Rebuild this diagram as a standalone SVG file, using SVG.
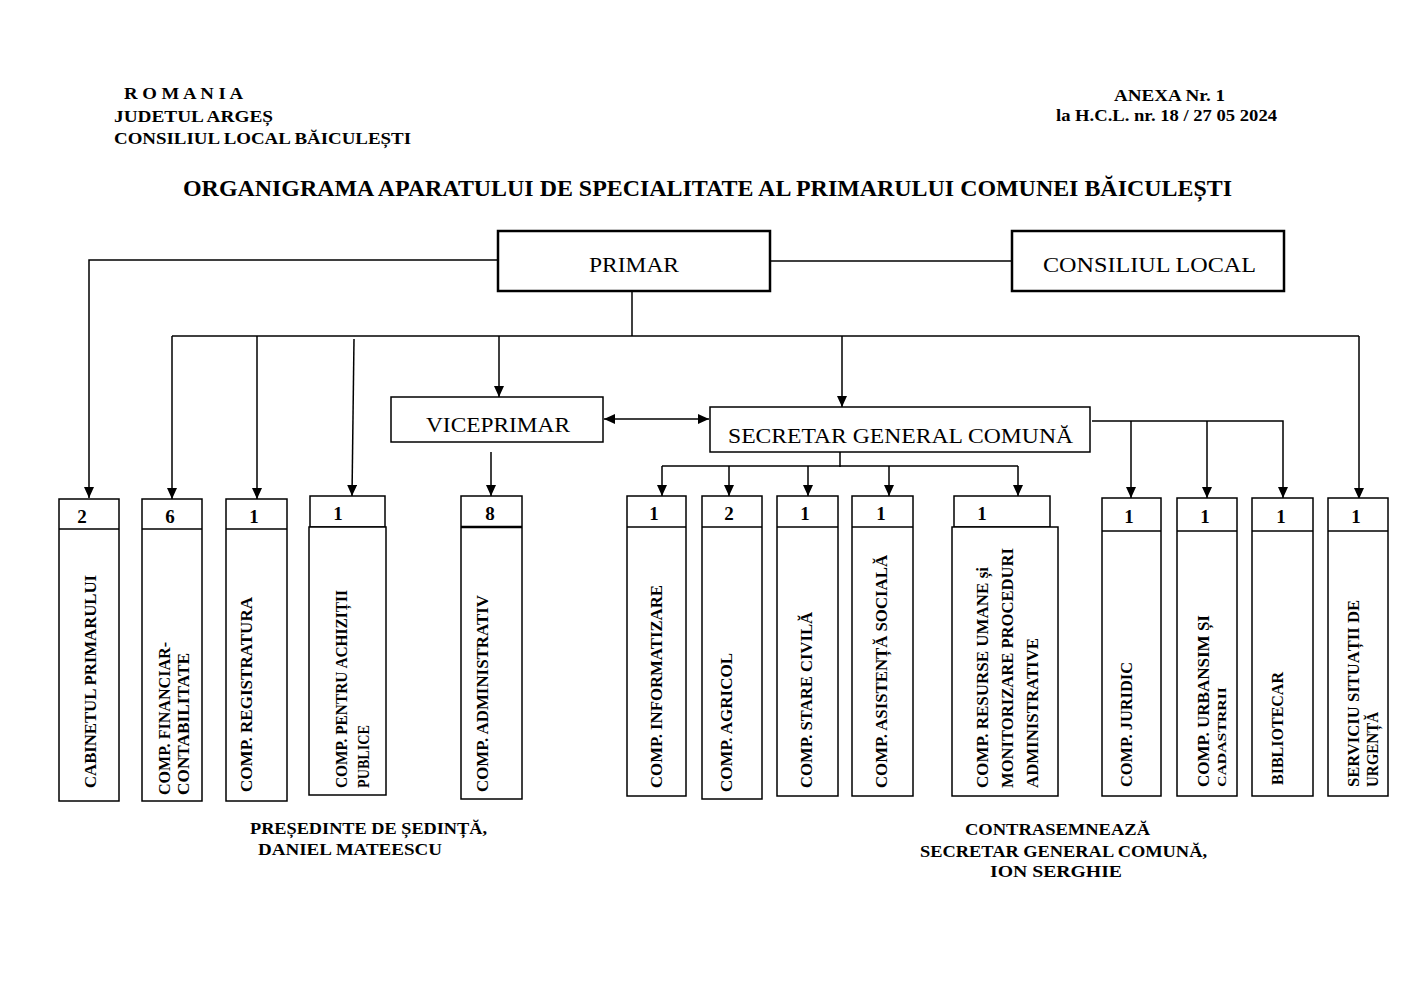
<svg xmlns="http://www.w3.org/2000/svg" width="1415" height="1001" viewBox="0 0 1415 1001">
<style>
text{font-family:"Liberation Serif","Times New Roman",serif;fill:#000}
.b{font-weight:bold}
.h{font-size:16px;font-weight:bold}
.t{font-size:23px;font-weight:bold}
.big{font-size:22px}
.num{font-size:19px;font-weight:bold;text-anchor:middle}
.v{font-size:16.5px;font-weight:bold}
.box{fill:#fff;stroke:#000;stroke-width:1.5}
.bx2{fill:#fff;stroke:#000;stroke-width:2.5}
.c{fill:none;stroke:#000;stroke-width:1.5}
</style>
<defs>
<marker id="ah" markerUnits="userSpaceOnUse" markerWidth="12" markerHeight="10" refX="11" refY="5" orient="auto-start-reverse">
<path d="M0,0 L11,5 L0,10 Z" fill="#000"/>
</marker>
</defs>
<rect width="1415" height="1001" fill="#fff"/>

<g id="header">
<text class="h" x="124" y="99" textLength="119" lengthAdjust="spacingAndGlyphs">R O M A N I A</text>
<text class="h" x="114" y="122" textLength="159" lengthAdjust="spacingAndGlyphs">JUDETUL  ARGEȘ</text>
<text class="h" x="114" y="144" textLength="297" lengthAdjust="spacingAndGlyphs">CONSILIUL LOCAL  BĂICULEȘTI</text>
<text class="h" x="1114" y="101" textLength="111" lengthAdjust="spacingAndGlyphs">ANEXA  Nr. 1</text>
<text class="h" x="1056" y="121" textLength="221" lengthAdjust="spacingAndGlyphs">la H.C.L. nr. 18 / 27 05 2024</text>
<text class="t" x="183" y="196" textLength="1049" lengthAdjust="spacingAndGlyphs">ORGANIGRAMA  APARATULUI DE SPECIALITATE AL PRIMARULUI COMUNEI BĂICULEȘTI</text>
</g>

<g id="connectors">
<polyline class="c" points="498,260 89,260 89,498" marker-end="url(#ah)"/>
<line class="c" x1="770" y1="261" x2="1012" y2="261"/>
<line class="c" x1="632" y1="291" x2="632" y2="336"/>
<line class="c" x1="172" y1="336" x2="1359" y2="336"/>
<line class="c" x1="172" y1="336" x2="172" y2="499" marker-end="url(#ah)"/>
<line class="c" x1="257" y1="336" x2="257" y2="499" marker-end="url(#ah)"/>
<line class="c" x1="354" y1="339" x2="352" y2="496" marker-end="url(#ah)"/>
<line class="c" x1="499" y1="336" x2="499" y2="397" marker-end="url(#ah)"/>
<line class="c" x1="842" y1="336" x2="842" y2="407" marker-end="url(#ah)"/>
<line class="c" x1="1359" y1="336" x2="1359" y2="499" marker-end="url(#ah)"/>
<line class="c" x1="604" y1="419" x2="709" y2="419" marker-start="url(#ah)" marker-end="url(#ah)"/>
<line class="c" x1="491" y1="452" x2="491" y2="496" marker-end="url(#ah)"/>
<line class="c" x1="840" y1="452" x2="840" y2="467"/>
<line class="c" x1="662" y1="466" x2="1018" y2="466"/>
<line class="c" x1="662" y1="466" x2="662" y2="496" marker-end="url(#ah)"/>
<line class="c" x1="729" y1="466" x2="729" y2="496" marker-end="url(#ah)"/>
<line class="c" x1="808" y1="466" x2="808" y2="496" marker-end="url(#ah)"/>
<line class="c" x1="889" y1="466" x2="889" y2="496" marker-end="url(#ah)"/>
<line class="c" x1="1018" y1="466" x2="1018" y2="496" marker-end="url(#ah)"/>
<polyline class="c" points="1092,421 1283,421 1283,498" marker-end="url(#ah)"/>
<line class="c" x1="1131" y1="421" x2="1131" y2="498" marker-end="url(#ah)"/>
<line class="c" x1="1207" y1="421" x2="1207" y2="498" marker-end="url(#ah)"/>
</g>

<g id="primar">
<rect class="bx2" x="498" y="231" width="272" height="60"/>
<text class="big" x="589" y="272" textLength="90" lengthAdjust="spacingAndGlyphs">PRIMAR</text>
</g>
<g id="consiliul-local">
<rect class="bx2" x="1012" y="231" width="272" height="60"/>
<text class="big" x="1043" y="272" textLength="213" lengthAdjust="spacingAndGlyphs">CONSILIUL  LOCAL</text>
</g>
<g id="viceprimar">
<rect class="box" x="391" y="397" width="212" height="45"/>
<text class="big" x="426" y="432" textLength="144" lengthAdjust="spacingAndGlyphs">VICEPRIMAR</text>
</g>
<g id="secretar">
<rect class="box" x="710" y="407" width="380" height="45"/>
<text class="big" x="728" y="443" textLength="345" lengthAdjust="spacingAndGlyphs">SECRETAR GENERAL COMUNĂ</text>
</g>

<g id="cabinet">
<rect class="box" x="59" y="499" width="60" height="302"/>
<line class="c" x1="59" y1="529" x2="119" y2="529"/>
<text class="num" x="82" y="523">2</text>
<text class="v" transform="translate(96,788) rotate(-90)" textLength="213" lengthAdjust="spacingAndGlyphs">CABINETUL PRIMARULUI</text>
</g>
<g id="financiar">
<rect class="box" x="142" y="499" width="60" height="302"/>
<line class="c" x1="142" y1="529" x2="202" y2="529"/>
<text class="num" x="170" y="523">6</text>
<text class="v" transform="translate(170,795) rotate(-90)" textLength="153" lengthAdjust="spacingAndGlyphs">COMP. FINANCIAR-</text>
<text class="v" transform="translate(189,795) rotate(-90)" textLength="142" lengthAdjust="spacingAndGlyphs">CONTABILITATE</text>
</g>
<g id="registratura">
<rect class="box" x="226" y="499" width="61" height="302"/>
<line class="c" x1="226" y1="529" x2="287" y2="529"/>
<text class="num" x="254" y="523">1</text>
<text class="v" transform="translate(252,792) rotate(-90)" textLength="195" lengthAdjust="spacingAndGlyphs">COMP. REGISTRATURA</text>
</g>
<g id="achizitii">
<rect class="box" x="310" y="496" width="75" height="31"/>
<rect class="box" x="309" y="527" width="77" height="268"/>
<text class="num" x="338" y="520">1</text>
<text class="v" transform="translate(347,788) rotate(-90)" textLength="198" lengthAdjust="spacingAndGlyphs">COMP.  PENTRU ACHIZIȚII</text>
<text class="v" transform="translate(369,788) rotate(-90)" textLength="63" lengthAdjust="spacingAndGlyphs">PUBLICE</text>
</g>
<g id="administrativ">
<rect class="box" x="461" y="496" width="61" height="303"/>
<line x1="461" y1="527" x2="522" y2="527" stroke="#000" stroke-width="2.5"/>
<text class="num" x="490" y="520">8</text>
<text class="v" transform="translate(488,792) rotate(-90)" textLength="197" lengthAdjust="spacingAndGlyphs">COMP. ADMINISTRATIV</text>
</g>
<g id="informatizare">
<rect class="box" x="627" y="496" width="59" height="300"/>
<line class="c" x1="627" y1="527" x2="686" y2="527"/>
<text class="num" x="654" y="520">1</text>
<text class="v" transform="translate(662,788) rotate(-90)" textLength="203" lengthAdjust="spacingAndGlyphs">COMP. INFORMATIZARE</text>
</g>
<g id="agricol">
<rect class="box" x="702" y="496" width="60" height="303"/>
<line class="c" x1="702" y1="527" x2="762" y2="527"/>
<text class="num" x="729" y="520">2</text>
<text class="v" transform="translate(732,792) rotate(-90)" textLength="139" lengthAdjust="spacingAndGlyphs">COMP. AGRICOL</text>
</g>
<g id="stare-civila">
<rect class="box" x="777" y="496" width="61" height="300"/>
<line class="c" x1="777" y1="527" x2="838" y2="527"/>
<text class="num" x="805" y="520">1</text>
<text class="v" transform="translate(812,788) rotate(-90)" textLength="176" lengthAdjust="spacingAndGlyphs">COMP. STARE CIVILĂ</text>
</g>
<g id="asistenta">
<rect class="box" x="852" y="496" width="61" height="300"/>
<line class="c" x1="852" y1="527" x2="913" y2="527"/>
<text class="num" x="881" y="520">1</text>
<text class="v" transform="translate(887,788) rotate(-90)" textLength="233" lengthAdjust="spacingAndGlyphs">COMP. ASISTENȚĂ SOCIALĂ</text>
</g>
<g id="resurse-umane">
<rect class="box" x="954" y="496" width="96" height="31"/>
<rect class="box" x="952" y="527" width="106" height="269"/>
<text class="num" x="982" y="520">1</text>
<text class="v" transform="translate(988,788) rotate(-90)" textLength="221" lengthAdjust="spacingAndGlyphs">COMP. RESURSE UMANE și</text>
<text class="v" transform="translate(1013,788) rotate(-90)" textLength="240" lengthAdjust="spacingAndGlyphs">MONITORIZARE PROCEDURI</text>
<text class="v" transform="translate(1038,788) rotate(-90)" textLength="150" lengthAdjust="spacingAndGlyphs">ADMINISTRATIVE</text>
</g>
<g id="juridic">
<rect class="box" x="1102" y="498" width="59" height="298"/>
<line class="c" x1="1102" y1="531" x2="1161" y2="531"/>
<text class="num" x="1129" y="523">1</text>
<text class="v" transform="translate(1132,787) rotate(-90)" textLength="125" lengthAdjust="spacingAndGlyphs">COMP. JURIDIC</text>
</g>
<g id="urbanism">
<rect class="box" x="1177" y="498" width="60" height="298"/>
<line class="c" x1="1177" y1="531" x2="1237" y2="531"/>
<text class="num" x="1205" y="523">1</text>
<text class="v" transform="translate(1209,787) rotate(-90)" textLength="172" lengthAdjust="spacingAndGlyphs">COMP. URBANSIM  ȘI</text>
<text class="v" style="font-size:12px" transform="translate(1226,787) rotate(-90)" textLength="100" lengthAdjust="spacingAndGlyphs">CADASTRRII</text>
</g>
<g id="bibliotecar">
<rect class="box" x="1252" y="498" width="61" height="298"/>
<line class="c" x1="1252" y1="531" x2="1313" y2="531"/>
<text class="num" x="1281" y="523">1</text>
<text class="v" transform="translate(1283,785) rotate(-90)" textLength="113" lengthAdjust="spacingAndGlyphs">BIBLIOTECAR</text>
</g>
<g id="situatii-urgenta">
<rect class="box" x="1328" y="498" width="60" height="298"/>
<line class="c" x1="1328" y1="531" x2="1388" y2="531"/>
<text class="num" x="1356" y="523">1</text>
<text class="v" transform="translate(1359,787) rotate(-90)" textLength="187" lengthAdjust="spacingAndGlyphs">SERVICIU SITUAȚII DE</text>
<text class="v" transform="translate(1378,787) rotate(-90)" textLength="75" lengthAdjust="spacingAndGlyphs">URGENȚĂ</text>
</g>

<g id="footer">
<text class="h" x="250" y="834" textLength="237" lengthAdjust="spacingAndGlyphs">PREȘEDINTE DE ȘEDINȚĂ,</text>
<text class="h" x="258" y="855" textLength="184" lengthAdjust="spacingAndGlyphs">DANIEL  MATEESCU</text>
<text class="h" x="965" y="835" textLength="185" lengthAdjust="spacingAndGlyphs">CONTRASEMNEAZĂ</text>
<text class="h" x="920" y="857" textLength="287" lengthAdjust="spacingAndGlyphs">SECRETAR GENERAL COMUNĂ,</text>
<text class="h" x="990" y="877" textLength="132" lengthAdjust="spacingAndGlyphs">ION   SERGHIE</text>
</g>
</svg>
